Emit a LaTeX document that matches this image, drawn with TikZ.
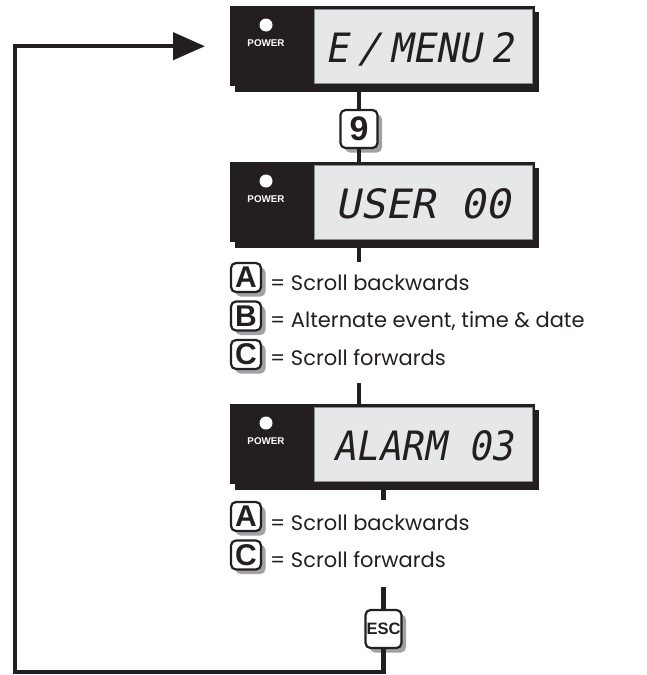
\documentclass[tikz,border=0pt]{standalone}
\usepackage{fontspec}
\usetikzlibrary{arrows.meta,shadows}
\setmainfont{Poppins}
\newfontfamily\keyfont{Liberation Sans}
\newfontfamily\lcdfont{DejaVu Sans Mono}[FakeSlant=0.2]
\definecolor{ink}{HTML}{231F20}
\definecolor{lcdgray}{HTML}{E6E7E8}
\definecolor{shadowgray}{HTML}{A0A2A5}
\tikzset{
 flow/.style={draw=ink, line width=4.5pt},
 dispbody/.style={fill=ink, minimum width=305pt, minimum height=80pt, inner sep=0pt, anchor=north west},
 dispshadow/.style={fill=ink},
 lcdpanel/.style={fill=lcdgray, draw=black!45, line width=0.5pt, minimum width=218pt, minimum height=74pt, inner sep=0pt, anchor=north west},
 led/.style={circle, fill=white, minimum size=13pt, inner sep=0pt},
 pwrlabel/.style={text=white, font=\keyfont\bfseries\fontsize{9.8}{10}\selectfont, inner sep=0pt},
 lcdtext/.style={text=ink, inner sep=0pt, anchor=base west},
 keybox/.style={draw=ink, fill=white, line width=2.2pt, rounded corners=5pt, inner sep=0pt, text=ink,
   drop shadow={shadow xshift=4.5pt, shadow yshift=-4.5pt, fill=shadowgray, opacity=1}},
 lettkey/.style={keybox, minimum width=30pt, minimum height=29pt, font=\keyfont\bfseries\fontsize{30}{30}\selectfont},
 desc/.style={text=ink, inner sep=0pt, anchor=base west, font=\fontsize{21}{22}\selectfont},
}
% name, top y, text x, text width, text
\newcommand\mydisplay[5]{%
  \fill[dispshadow] (235,#2+6) rectangle (539,#2+86);
  \node[dispbody] (#1) at (230,#2) {};
  \node[lcdpanel] (#1lcd) at (314,#2+3) {};
  \node[led] (#1led) at (266,#2+19) {};
  \node[pwrlabel] (#1pwr) at (266,#2+37) {POWER};
  \node[lcdtext] (#1txt) at (#3,#2+56) {\resizebox{#4pt}{30pt}{\lcdfont\spaceskip=0.24em #5}};
}
\begin{document}
\begin{tikzpicture}[x=1pt,y=-1pt]
\useasboundingbox (0,0) rectangle (646,675);
\mydisplay{d1}{6}{325}{188}{E / MENU 2}
\mydisplay{d2}{162}{335}{175}{\spaceskip=0pt USER 00}
\mydisplay{d3}{404}{333}{180}{\spaceskip=0pt ALARM 03}

\node[keybox, minimum width=37pt, minimum height=38pt, font=\keyfont\bfseries\fontsize{34}{34}\selectfont] (k9) at (359,129) {9};

\node[lettkey] (ka1) at (246,277.5) {A};
\node[desc] (ta1) at (270,290) {= Scroll backwards};
\node[lettkey] (kb1) at (246,316) {B};
\node[desc] (tb1) at (270,327) {= Alternate event, time \& date};
\node[lettkey] (kc1) at (246,354.5) {C};
\node[desc] (tc1) at (270,365) {= Scroll forwards};

\node[lettkey] (ka2) at (246,516.5) {A};
\node[desc] (ta2) at (270,530) {= Scroll backwards};
\node[lettkey] (kc2) at (246,555) {C};
\node[desc] (tc2) at (270,567) {= Scroll forwards};

\node[keybox, minimum width=36pt, minimum height=38pt, font=\keyfont\bfseries\fontsize{16.5}{17}\selectfont] (kesc) at (383.5,629) {ESC};

\coordinate (l1top) at (359,262);
\coordinate (l1bot) at (359,383);
\coordinate (l2top) at (383.5,500);
\coordinate (l2bot) at (383.5,587);
\coordinate (bl) at (15,672);

\draw[flow] (d1.south -| k9.north) -- (k9.north);
\draw[flow] (k9.south) -- (k9.south |- d2.north);
\draw[flow] (d2.south -| l1top) -- (l1top);
\draw[flow] (l1bot) -- (l1bot |- d3.north);
\draw[flow] (d3.south -| l2top) -- (l2top);
\draw[flow] (l2bot) -- (kesc.north);
\draw[flow, -{Triangle[length=32pt,width=27pt]}, shorten >=25pt] (kesc.south) |- (bl) |- (d1.west);
\end{tikzpicture}
\end{document}
